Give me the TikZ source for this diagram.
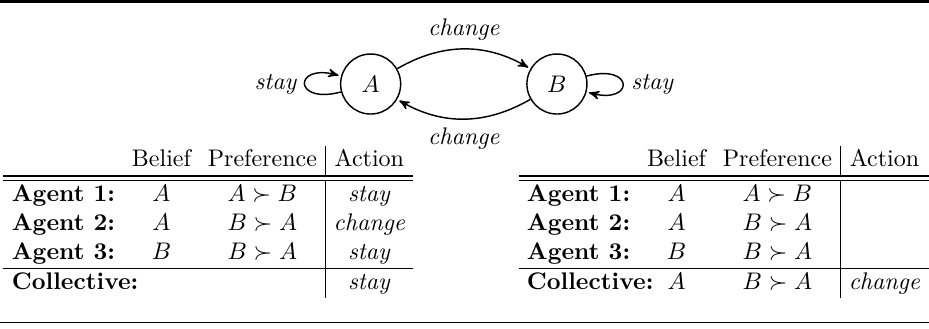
\documentclass[tikz,border=0pt]{standalone}
\usepackage{amsmath}
\usepackage{amssymb}
\usepackage{tikz}
\usetikzlibrary{arrows,automata,positioning}
\tikzset{
  >=stealth',
  st/.style={state,semithick,minimum size=2.5em},
  tr/.style={->,semithick,shorten >=1pt},
  lbl/.style={font=\itshape},
  tbl/.style={anchor=north west,inner sep=0pt}
}
\setlength{\tabcolsep}{3.5pt}
\setlength{\arrayrulewidth}{0.6pt}

\begin{document}
\begin{tikzpicture}[x=1pt,y=1pt]
    % --- Frame ---
    \def\figw{387}
    \def\ytab{-60.8}
    \useasboundingbox (0,0) rectangle (\figw,-136.7);
    \draw[line width=1.4pt] (0,-0.7) -- (\figw,-0.7);
    \draw[line width=0.5pt] (0,-134.2) -- (\figw,-134.2);

    % --- States ---
    \node[st] (A) at (154.4,-35) {$A$};
    \node[st, right=52pt of A] (B) {$B$};

    % --- Transitions ---
    \path[tr] (A) edge[bend left] node[lbl,above] {change} (B)
              (B) edge[bend left] node[lbl,below] {change} (A)
              (A) edge[loop left] node[lbl,left] {stay} ()
              (B) edge[loop right] node[lbl,right] {stay} ();

    % --- Individual actions ---
    \node[tbl] (indiv) at (1.25,\ytab) {%
      \begin{tabular}{lcc|c}
        & Belief & Preference & Action\\
        \hline\hline
        \textbf{Agent 1:} & $A$ & $A \succ B$ & \textit{stay}\\
        \textbf{Agent 2:} & $A$ & $B \succ A$ & \textit{change}\\
        \textbf{Agent 3:} & $B$ & $B \succ A$ & \textit{stay}\\
        \hline
        \rlap{\textbf{Collective:}} & & & \textit{stay}
      \end{tabular}};

    % --- Collective action ---
    \node[tbl] (coll) at (215.8,\ytab) {%
      \begin{tabular}{lcc|c}
        & Belief & Preference & Action\\
        \hline\hline
        \textbf{Agent 1:} & $A$ & $A \succ B$ & \\
        \textbf{Agent 2:} & $A$ & $B \succ A$ & \\
        \textbf{Agent 3:} & $B$ & $B \succ A$ & \\
        \hline
        \rlap{\textbf{Collective:}} & $A$ & $B \succ A$ & \textit{change}
      \end{tabular}};
\end{tikzpicture}
\end{document}
